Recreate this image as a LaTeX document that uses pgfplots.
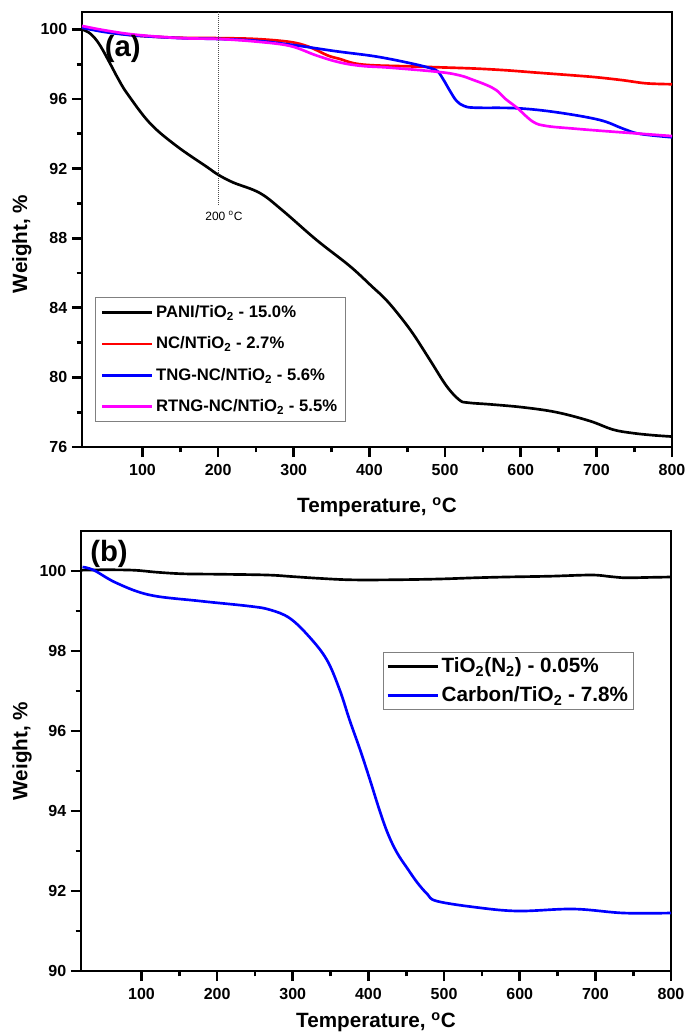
\documentclass[border=0pt]{standalone}
\usepackage{fontspec}
\setmainfont{Liberation Sans}
\usepackage{pgfplots}
\pgfplotsset{compat=1.18}

\definecolor{mag}{RGB}{255,0,255}
\definecolor{pblue}{RGB}{0,0,255}
\definecolor{pred}{RGB}{255,0,0}

\pgfplotsset{
  tga/.style={
    scale only axis, width=442.5pt,
    xmin=20, xmax=800,
    xtick={100,200,...,800}, minor x tick num=1, minor y tick num=1,
    tick align=outside, xtick pos=bottom, ytick pos=left,
    axis line style={line width=2.2pt},
    major tick length=7.5pt, minor tick length=4pt,
    tick style={black, line width=2pt},
    tick label style={font=\fontsize{12}{14}\selectfont\bfseries},
    xticklabel style={yshift=-2pt},
    /pgf/number format/assume math mode=true,
    ylabel={Weight, \%},
    xlabel={Temperature, \textsuperscript{o}C},
    every axis plot/.append style={line width=2pt, smooth, tension=0.6},
    legend cell align=left,
    legend image code/.code={\draw[#1, line width=2pt] (0pt,0pt) -- (37.5pt,0pt);},
  }
}

\begin{document}
\begin{tikzpicture}
\useasboundingbox (0,0) rectangle (516.75pt,-777pt);

% (a) air
\begin{axis}[tga,
  at={(61.5pt,-335.25pt)}, anchor=south west,
  height=326.25pt,
  ymin=76, ymax=101,
  ytick={76,80,...,100},
  every axis y label/.style={at={(axis description cs:-0.102,0.467)}, rotate=90, anchor=center,
    font=\fontsize{15.5}{18}\selectfont\bfseries},
  every axis x label/.style={at={(axis description cs:0.5,-0.138)}, anchor=center,
    font=\fontsize{15.5}{18}\selectfont\bfseries},
  legend style={at={(0.022,0.345)}, anchor=north west, draw=gray, line width=0.8pt,
    font=\fontsize{12.5}{15}\selectfont\bfseries, row sep=9pt, inner sep=4pt},
]
\addplot[black] coordinates {
 (20,100) (28,99.85) (36,99.55) (45,99.0) (57,98.05) (68,97.15) (80,96.3)
 (110,94.6) (145,93.3) (185,92.1) (200,91.65) (220,91.2) (255,90.6)
 (285,89.6) (330,87.9) (374,86.4) (404,85.2) (420,84.55) (436,83.75)
 (457,82.55) (480,81.0) (502,79.5) (519,78.7) (530,78.55) (560,78.45)
 (603,78.28) (647,78.0) (691,77.5) (722,77.0) (748,76.8) (774,76.68) (800,76.6)
};
\addlegendentry{PANI/TiO\textsubscript{2} - 15.0\%}
\addplot[pred] coordinates {
 (20,100.1) (50,99.9) (90,99.65) (150,99.52) (200,99.5) (250,99.45)
 (295,99.28) (320,99.0) (345,98.5) (361,98.3) (380,98.05) (404,97.94)
 (450,97.88) (493,97.82) (540,97.75) (581,97.65) (620,97.52) (669,97.36)
 (700,97.25) (735,97.08) (766,96.9) (800,96.85)
};
\addlegendentry{NC/NTiO\textsubscript{2} - 2.7\%}
\addplot[pblue] coordinates {
 (20,100.1) (50,99.85) (90,99.65) (150,99.5) (200,99.45) (250,99.35)
 (300,99.1) (355,98.75) (400,98.5) (427,98.3) (460,98.0) (480,97.78)
 (490,97.6) (498,97.1) (506,96.5) (515,95.9) (525,95.6) (540,95.5)
 (595,95.47) (647,95.24) (704,94.8) (735,94.3) (757,94.0) (800,93.8)
};
\addlegendentry{TNG-NC/NTiO\textsubscript{2} - 5.6\%}
\addplot[mag] coordinates {
 (20,100.2) (50,99.95) (90,99.7) (150,99.5) (200,99.45) (250,99.3)
 (295,99.05) (330,98.5) (361,98.1) (390,97.9) (427,97.8) (493,97.55)
 (520,97.35) (537,97.1) (555,96.8) (568,96.5) (580,96.0) (595,95.5)
 (616,94.7) (634,94.45) (670,94.3) (713,94.15) (760,94.0) (800,93.87)
};
\addlegendentry{RTNG-NC/NTiO\textsubscript{2} - 5.5\%}
\draw[densely dotted, line width=0.5pt, black!70] (axis cs:200,101) -- (axis cs:200,89.9);
\node[font=\fontsize{9}{11}\selectfont] at (axis cs:207.6,89.3) {200 \textsuperscript{o}C};
\node[font=\fontsize{22}{26}\selectfont\bfseries] at (axis cs:74,98.9) {(a)};
\end{axis}

% (b) nitrogen
\begin{axis}[tga,
  at={(60.75pt,-728.25pt)}, anchor=south west,
  height=330pt,
  ymin=90, ymax=101,
  ytick={90,92,...,100},
  every axis y label/.style={at={(axis description cs:-0.1,0.5)}, rotate=90, anchor=center,
    font=\fontsize{15.5}{18}\selectfont\bfseries},
  every axis x label/.style={at={(axis description cs:0.5,-0.116)}, anchor=center,
    font=\fontsize{15.5}{18}\selectfont\bfseries},
  legend style={at={(0.512,0.725)}, anchor=north west, draw=gray, line width=0.8pt,
    font=\fontsize{15.5}{18}\selectfont\bfseries, row sep=5pt, inner sep=2pt},
]
\addplot[black] coordinates {
 (20,100.02) (50,100.03) (90,100.02) (120,99.97) (155,99.93) (200,99.92)
 (266,99.9) (300,99.86) (332,99.82) (376,99.78) (430,99.78) (493,99.8)
 (540,99.83) (581,99.85) (640,99.87) (695,99.9) (720,99.86) (740,99.83)
 (770,99.84) (800,99.85)
};
\addlegendentry{TiO\textsubscript{2}(N\textsubscript{2}) - 0.05\%}
\addplot[pblue] coordinates {
 (22,100.1) (37,100.02) (67,99.7) (111,99.4) (177,99.25) (243,99.12)
 (270,99.03) (296,98.82) (322,98.35) (345,97.78) (362,97.03) (375,96.28)
 (389,95.53) (402,94.78) (415,94.0) (426,93.42) (438,92.95) (452,92.55)
 (465,92.2) (478,91.92) (490,91.75) (539,91.6) (597,91.5) (671,91.55)
 (737,91.45) (800,91.45)
};
\addlegendentry{Carbon/TiO\textsubscript{2} - 7.8\%}
\node[font=\fontsize{22}{26}\selectfont\bfseries] at (axis cs:57,100.43) {(b)};
\end{axis}
\end{tikzpicture}
\end{document}
